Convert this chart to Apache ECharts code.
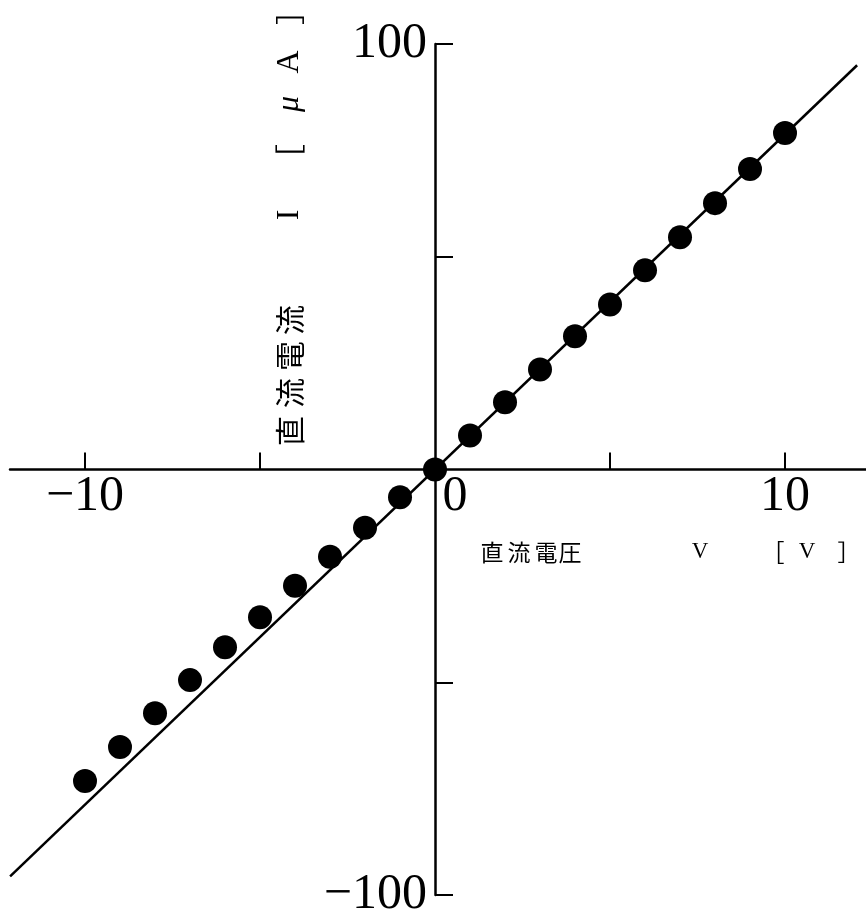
<!DOCTYPE html>
<html>
<head>
<meta charset="utf-8">
<script src="https://cdn.jsdelivr.net/npm/echarts@6/dist/echarts.min.js"></script>
<style>
  html, body { margin: 0; padding: 0; background: #fff; }
  #chart { width: 866px; height: 919px; }
</style>
</head>
<body>
<div id="chart"></div>
<script>
// DC voltage (V) and measured DC current (µA)
const voltage = [-10, -9, -8, -7, -6, -5, -4, -3, -2, -1, 0, 1, 2, 3, 4, 5, 6, 7, 8, 9, 10];
const current = [-73.2, -65.2, -57.3, -49.5, -41.8, -34.7, -27.3, -20.5, -13.7, -6.5, 0,
                 8.0, 15.8, 23.5, 31.3, 38.8, 46.8, 54.6, 62.6, 70.6, 79.1];

// Straight reference line (two end points, in V and µA)
const fitVoltage = [-12.14, 12.06];
const fitCurrent = [-95.6, 95.0];

// Axis ranges, ticks and labels
const xRange = [-12.143, 12.314];
const yRange = [-100, 100];
const xTickValues = [-10, -5, 5, 10];
const xLabelValues = [-10, 0, 10];
const yTickValues = [-100, -50, 50, 100];
const yLabelValues = [-100, 100];

// Axis titles, one glyph each
const xTitleGlyphs = ['直', '流', '電', '圧', 'V', '［', 'V', '］'];
const yTitleGlyphs = ['直', '流', '電', '流', 'I', '［', 'μ', 'A', '］'];

const SERIF = '"Liberation Serif", "DejaVu Serif", serif';
const CJK = '"Noto Sans CJK JP", "Noto Sans CJK SC", sans-serif';

function isLatin(ch) { return /[A-Za-zμ]/.test(ch); }

// layout of the axis-title glyphs (centres of each em box)
const xTitleCenters = [492, 519, 546, 570, 700, 773, 807, 849];
const yTitleCenters = [431, 393, 356, 320, 215, 159, 104, 62, 10];

const graphics = [];
xTitleGlyphs.forEach((ch, i) => {
  graphics.push({
    type: 'text', x: xTitleCenters[i], y: 552, silent: true,
    style: {
      text: ch, fill: '#000', align: 'center', verticalAlign: 'middle',
      fontFamily: isLatin(ch) ? SERIF : CJK, fontSize: 23
    }
  });
});
yTitleGlyphs.forEach((ch, i) => {
  graphics.push({
    type: 'text', x: 290, y: yTitleCenters[i], rotation: Math.PI / 2, silent: true,
    style: {
      text: ch, fill: '#000', align: 'center', verticalAlign: 'middle',
      fontFamily: isLatin(ch) ? SERIF : CJK, fontSize: isLatin(ch) ? 32 : 30,
      fontStyle: ch === 'μ' ? 'italic' : 'normal'
    }
  });
});

const fmt = v => v === 0 ? '{z|0}' : (v < 0 ? '\u2212' + Math.abs(v) : String(v));

const chart = echarts.init(document.getElementById('chart'), null, { renderer: 'canvas' });
chart.setOption({
  backgroundColor: '#fff',
  animation: false,
  grid: { left: 10, right: 0, top: 44, bottom: 24, containLabel: false, outerBoundsMode: 'none' },
  xAxis: {
    type: 'value', min: xRange[0], max: xRange[1], position: 'bottom',
    axisLine: { onZero: false, lineStyle: { color: '#000', width: 2.5 } },
    axisTick: { show: true, inside: true, length: 17, customValues: xTickValues,
                lineStyle: { color: '#000', width: 2 } },
    axisLabel: {
      customValues: xLabelValues, formatter: fmt, margin: 2,
      color: '#000', fontFamily: SERIF, fontSize: 50,
      rich: { z: { padding: [0, 0, 0, 40], color: '#000', fontFamily: SERIF, fontSize: 50 } }
    },
    splitLine: { show: false }
  },
  yAxis: {
    type: 'value', min: yRange[0], max: yRange[1], position: 'left',
    axisLine: { onZero: false, lineStyle: { color: '#000', width: 2.5 } },
    axisTick: { show: true, inside: true, length: 18, customValues: yTickValues,
                lineStyle: { color: '#000', width: 2 } },
    axisLabel: {
      customValues: yLabelValues, formatter: fmt, margin: 8,
      color: '#000', fontFamily: SERIF, fontSize: 50
    },
    splitLine: { show: false }
  },
  series: [
    {
      type: 'line', data: fitVoltage.map((v, i) => [v, fitCurrent[i]]),
      showSymbol: false, symbol: 'none', silent: true, z: 2,
      lineStyle: { color: '#000', width: 2.5 }
    },
    {
      type: 'scatter', data: voltage.map((v, i) => [v, current[i]]),
      symbol: 'circle', symbolSize: 24, z: 3,
      itemStyle: { color: '#000', opacity: 1 }
    }
  ],
  graphic: graphics
});

// Move both axes so they cross at the origin, keeping ticks and labels with them
const origin = chart.convertToPixel({ gridIndex: 0 }, [0, 0]);
const leftPx = chart.convertToPixel({ xAxisIndex: 0 }, xRange[0]);
const bottomPx = chart.convertToPixel({ yAxisIndex: 0 }, yRange[0]);
chart.setOption({
  xAxis: { offset: -(bottomPx - origin[1]) },
  yAxis: { offset: -(origin[0] - leftPx) }
});
</script>
</body>
</html>
